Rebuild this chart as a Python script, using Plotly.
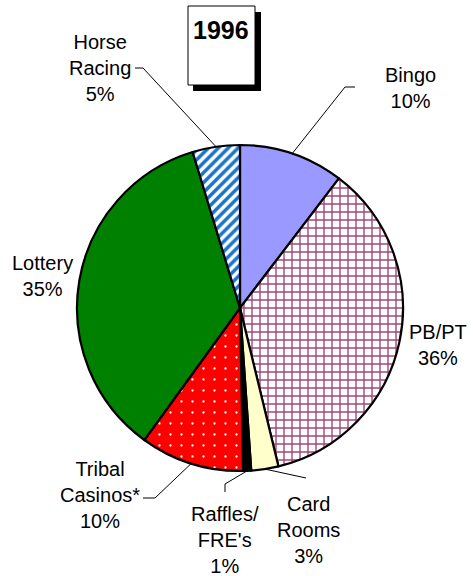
import math
import plotly.graph_objects as go

# ---- data ----
categories = ["Bingo", "PB/PT", "Card Rooms", "Raffles/FRE's", "Tribal Casinos*", "Lottery", "Horse Racing"]
label_text = ["Bingo", "PB/PT", "Card<br>Rooms", "Raffles/<br>FRE's", "Tribal<br>Casinos*", "Lottery", "Horse<br>Racing"]
shares = [10.4, 35.9, 2.7, 0.8, 10.3, 35.4, 4.7]
pct_labels = ["10%", "36%", "3%", "1%", "10%", "35%", "5%"]
title_text = "1996"

# ---- styles ----
W, H = 473, 576
CX, CY, R = 240, 308, 163
colors = ["#9999FF", "#FFFFFF", "#FFFFCC", "#000000", "#FF0000", "#008000", "#FFFFFF"]
pat_shape = ["", "+", "", "", ".", "", "/"]
pat_fg = ["#9999FF", "#A0487A", "#FFFFCC", "#000000", "#FFFFFF", "#008000", "#1873CC"]
pat_bg = ["#9999FF", "#FFFFFF", "#FFFFCC", "#000000", "#FF0000", "#008000", "#FFFFFF"]
pat_size = [8, 8, 8, 8, 11, 8, 7]
pat_sol = [0.3, 0.32, 0.3, 0.3, 0.035, 0.3, 0.5]

# label centres (px) and leader elbows
label_pos = {
    "Bingo": (410, 88), "PB/PT": (438, 345), "Card Rooms": (308, 530),
    "Raffles/FRE's": (225, 540), "Tribal Casinos*": (100, 495),
    "Lottery": (42, 276), "Horse Racing": (100, 68),
}
leader = {
    "Bingo": [(355, 87), (345, 87)],
    "Card Rooms": [(306, 478)],
    "Raffles/FRE's": [(225, 492), (225, 484)],
    "Tribal Casinos*": [(143, 498), (155, 498)],
    "Horse Racing": [(135, 68), (143, 68)],
}

def px(x):
    return x / W

def py(y):
    return 1 - y / H

fig = go.Figure()
fig.add_trace(go.Pie(
    labels=categories, values=shares, sort=False, direction="clockwise",
    rotation=0, textinfo="none", hoverinfo="label+percent",
    marker=dict(colors=colors, line=dict(color="black", width=2.2),
                pattern=dict(shape=pat_shape, fgcolor=pat_fg, bgcolor=pat_bg,
                             size=pat_size, solidity=pat_sol)),
    domain=dict(x=[px(CX - R), px(CX + R)], y=[py(CY + R), py(CY - R)]),
    showlegend=False,
))

shapes = []
annotations = []

# title box with shadow
shapes.append(dict(type="rect", xref="paper", yref="paper", x0=px(193), x1=px(261),
                   y0=py(91), y1=py(12), fillcolor="black", line=dict(width=0)))
shapes.append(dict(type="rect", xref="paper", yref="paper", x0=px(188), x1=px(255),
                   y0=py(85), y1=py(6), fillcolor="white", line=dict(color="black", width=1)))
annotations.append(dict(text="<b>" + title_text + "</b>", x=px(221), y=py(30), xref="paper", yref="paper",
                        showarrow=False, font=dict(family="Liberation Sans, Arial", size=25, color="black"),
                        xanchor="center", yanchor="middle"))

total = sum(shares)
cum = 0
for cat, lt, v, pc in zip(categories, label_text, shares, pct_labels):
    mid = (cum + v / 2) / total * 2 * math.pi
    cum += v
    ex = CX + R * math.sin(mid)
    ey = CY - R * math.cos(mid)
    lx, ly = label_pos[cat]
    annotations.append(dict(text=lt + "<br>" + pc, x=px(lx), y=py(ly), xref="paper", yref="paper",
                            showarrow=False, align="center",
                            font=dict(family="Liberation Sans, Arial", size=20, color="black"),
                            xanchor="center", yanchor="middle"))
    if cat in leader:
        pts = leader[cat] + [(ex, ey)]
        path = "M " + " L ".join(f"{px(a)},{py(b)}" for a, b in pts)
        shapes.append(dict(type="path", xref="paper", yref="paper", path=path,
                           line=dict(color="black", width=1)))

fig.update_layout(
    width=W, height=H, margin=dict(l=0, r=0, t=0, b=0),
    paper_bgcolor="white", plot_bgcolor="white",
    shapes=shapes, annotations=annotations,
)
fig.write_html("out.html", config={"displayModeBar": False},
               post_script="document.body.style.margin='0';document.body.style.overflow='hidden';")
